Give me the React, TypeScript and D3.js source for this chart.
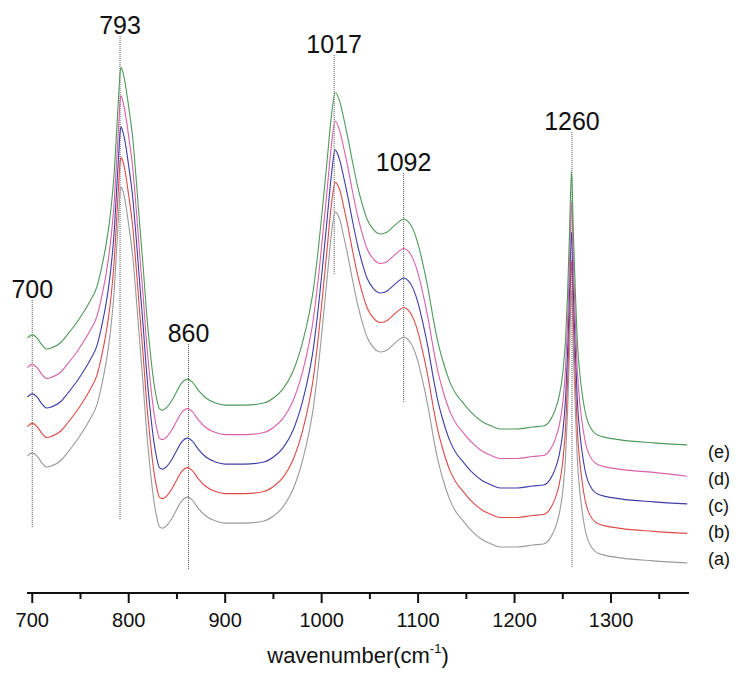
import React from "react";
import * as d3 from "d3";

// Wavenumber grid (cm-1)
const wavenumbers = [695,700,705,710,715,720,730,737,745,752,760,767,772,777,781,785,788,790,791,792,794,797,800,804,808,812,815,818,822,826,829,832,835,840,845,850,855,861,866,872,880,890,900,920,940,950,960,970,980,987,991,995,1001,1006,1010,1014,1019,1023,1027,1032,1037,1042,1047,1054,1061,1068,1074,1080,1085,1090,1095,1100,1105,1110,1116,1120,1126,1133,1140,1146,1151,1158,1167,1176,1185,1203,1219,1230,1237,1242,1246,1250,1253,1255,1257,1259,1261,1263,1265,1268,1270,1276,1286,1310,1344,1379];

// Absorbance (offset for clarity, as plotted)
const seriesA = [0.386,0.397,0.386,0.363,0.349,0.353,0.372,0.400,0.434,0.468,0.512,0.560,0.627,0.712,0.807,0.949,1.119,1.231,1.281,1.298,1.285,1.237,1.169,1.068,0.915,0.746,0.627,0.492,0.349,0.237,0.180,0.146,0.142,0.153,0.176,0.207,0.234,0.247,0.237,0.210,0.183,0.166,0.159,0.159,0.166,0.183,0.214,0.271,0.369,0.468,0.542,0.644,0.831,1.000,1.136,1.214,1.186,1.129,1.068,0.983,0.905,0.841,0.790,0.753,0.739,0.746,0.763,0.780,0.790,0.780,0.753,0.705,0.637,0.559,0.447,0.380,0.305,0.237,0.193,0.169,0.149,0.125,0.102,0.088,0.078,0.078,0.085,0.088,0.108,0.142,0.186,0.268,0.390,0.542,0.746,0.949,0.739,0.542,0.380,0.254,0.200,0.102,0.058,0.041,0.031,0.024];
const seriesB = [0.486,0.497,0.486,0.463,0.449,0.453,0.472,0.500,0.534,0.568,0.612,0.660,0.727,0.812,0.907,1.049,1.219,1.331,1.381,1.398,1.385,1.337,1.269,1.168,1.015,0.846,0.727,0.592,0.449,0.337,0.280,0.246,0.242,0.253,0.276,0.307,0.334,0.347,0.337,0.310,0.283,0.266,0.259,0.259,0.266,0.283,0.314,0.371,0.469,0.568,0.642,0.744,0.931,1.100,1.236,1.314,1.286,1.229,1.168,1.083,1.005,0.941,0.890,0.853,0.839,0.846,0.863,0.880,0.890,0.880,0.853,0.805,0.737,0.659,0.547,0.480,0.405,0.337,0.293,0.269,0.249,0.225,0.202,0.188,0.178,0.178,0.185,0.188,0.208,0.242,0.286,0.368,0.490,0.642,0.846,1.049,0.839,0.642,0.480,0.354,0.300,0.202,0.158,0.141,0.131,0.124];
const seriesC = [0.586,0.597,0.586,0.563,0.549,0.553,0.572,0.600,0.634,0.668,0.712,0.760,0.827,0.912,1.007,1.149,1.319,1.431,1.481,1.502,1.485,1.437,1.369,1.268,1.115,0.946,0.827,0.692,0.549,0.437,0.380,0.346,0.342,0.353,0.376,0.407,0.434,0.447,0.437,0.410,0.383,0.366,0.359,0.359,0.366,0.383,0.414,0.471,0.569,0.668,0.742,0.844,1.031,1.200,1.336,1.424,1.386,1.329,1.268,1.183,1.105,1.041,0.990,0.953,0.939,0.946,0.963,0.980,0.990,0.980,0.953,0.905,0.837,0.759,0.647,0.580,0.505,0.437,0.393,0.369,0.349,0.325,0.302,0.288,0.278,0.278,0.285,0.288,0.308,0.342,0.386,0.468,0.590,0.742,0.946,1.146,0.939,0.742,0.580,0.454,0.400,0.302,0.258,0.241,0.231,0.224];
const seriesD = [0.686,0.697,0.686,0.663,0.649,0.653,0.672,0.700,0.734,0.768,0.812,0.860,0.927,1.012,1.107,1.249,1.419,1.531,1.586,1.608,1.588,1.537,1.469,1.368,1.215,1.046,0.927,0.792,0.649,0.537,0.480,0.446,0.442,0.453,0.476,0.507,0.534,0.547,0.537,0.510,0.483,0.466,0.459,0.459,0.466,0.483,0.514,0.571,0.669,0.768,0.842,0.944,1.131,1.300,1.436,1.522,1.486,1.429,1.368,1.283,1.205,1.141,1.090,1.053,1.039,1.046,1.063,1.080,1.090,1.080,1.053,1.005,0.937,0.859,0.747,0.680,0.605,0.537,0.493,0.469,0.449,0.425,0.402,0.388,0.378,0.378,0.385,0.388,0.408,0.442,0.486,0.568,0.690,0.842,1.046,1.248,1.039,0.842,0.680,0.554,0.500,0.402,0.358,0.341,0.331,0.318];
const seriesE = [0.786,0.797,0.786,0.763,0.749,0.753,0.772,0.800,0.834,0.868,0.912,0.960,1.027,1.112,1.207,1.349,1.519,1.631,1.684,1.703,1.688,1.637,1.569,1.468,1.315,1.146,1.027,0.892,0.749,0.637,0.580,0.546,0.542,0.553,0.576,0.607,0.634,0.647,0.637,0.610,0.583,0.566,0.559,0.559,0.566,0.583,0.614,0.671,0.769,0.868,0.942,1.044,1.231,1.400,1.536,1.618,1.586,1.529,1.468,1.383,1.305,1.241,1.190,1.153,1.139,1.146,1.163,1.180,1.190,1.180,1.153,1.105,1.037,0.959,0.847,0.780,0.705,0.637,0.593,0.569,0.549,0.525,0.502,0.488,0.478,0.478,0.485,0.488,0.508,0.542,0.586,0.668,0.790,0.942,1.146,1.352,1.139,0.942,0.780,0.654,0.600,0.502,0.458,0.441,0.431,0.424];

const seriesNames = ["(a)", "(b)", "(c)", "(d)", "(e)"];
const seriesColors = ["#9a9a9a", "#de4a4a", "#3d3da8", "#d860a8", "#4f9a5a"];
const seriesValues = [seriesA, seriesB, seriesC, seriesD, seriesE];

// Marked peak reference lines
const peakLabels = ["700", "793", "860", "1017", "1092", "1260"];
const peakPositions = [700, 791, 862, 1013, 1085, 1259.5];
const peakLineTop = [0.915, 1.81, 0.766, 1.746, 1.346, 1.485];
const peakLineBottom = [0.142, 0.169, 0.0, 1.0, 0.569, 0.007];

const majorTicks = [700, 800, 900, 1000, 1100, 1200, 1300];
const minorTicks = [750, 850, 950, 1050, 1150, 1250, 1350];

const W = 735;
const H = 675;
const FONT = "'Liberation Sans', Arial, Helvetica, sans-serif";

export default function App() {
  const x = d3.scaleLinear().domain([696, 1380]).range([28.4, 688.2]);
  const y = d3.scaleLinear().domain([0, 1.9]).range([570, 9.5]);
  const axisY = 593;

  const line = d3
    .line<number>()
    .defined((d) => d !== undefined && !isNaN(d))
    .x((_, i) => x(wavenumbers[i]))
    .y((d) => y(d))
    .curve(d3.curveMonotoneX);

  const endLabelY = [565, 538, 512, 485, 458];

  return (
    <svg
      width={W}
      height={H}
      style={{ position: "absolute", left: 0, top: 0, background: "#fff" }}
      fontFamily={FONT}
    >
      <rect x={0} y={0} width={W} height={H} fill="#fff" />
      {/* peak reference lines */}
      {peakPositions.map((p, i) => (
        <g key={"pk" + i}>
          <line
            x1={x(p)}
            x2={x(p)}
            y1={y(peakLineTop[i])}
            y2={y(peakLineBottom[i])}
            stroke="#555"
            strokeWidth={1}
            strokeDasharray="1,1"
          />
          <text
            x={x(p)}
            y={y(peakLineTop[i]) - 2}
            textAnchor="middle"
            fontSize={25}
            fill="#111"
          >
            {peakLabels[i]}
          </text>
        </g>
      ))}
      {/* spectra */}
      {seriesValues.map((vals, i) => (
        <path
          key={"s" + i}
          d={line(vals) || ""}
          fill="none"
          stroke={seriesColors[i]}
          strokeWidth={1.1}
        />
      ))}
      {/* series labels */}
      {seriesNames.map((n, i) => (
        <text key={"n" + i} x={708} y={endLabelY[i]} fontSize={18} fill="#111">
          {n}
        </text>
      ))}
      {/* x axis */}
      <line x1={27} x2={689} y1={axisY} y2={axisY} stroke="#111" strokeWidth={2} />
      {majorTicks.map((t) => (
        <g key={"M" + t}>
          <line x1={x(t)} x2={x(t)} y1={axisY} y2={axisY + 10} stroke="#111" strokeWidth={2} />
          <text x={x(t)} y={627} textAnchor="middle" fontSize={20} fill="#111">
            {t}
          </text>
        </g>
      ))}
      {minorTicks.map((t) => (
        <line key={"m" + t} x1={x(t)} x2={x(t)} y1={axisY} y2={axisY + 6} stroke="#111" strokeWidth={2} />
      ))}
      <text x={358} y={663} textAnchor="middle" fontSize={22} fill="#111">
        wavenumber(cm
        <tspan fontSize={13} dy={-10}>-1</tspan>
        <tspan dy={10}>)</tspan>
      </text>
    </svg>
  );
}
